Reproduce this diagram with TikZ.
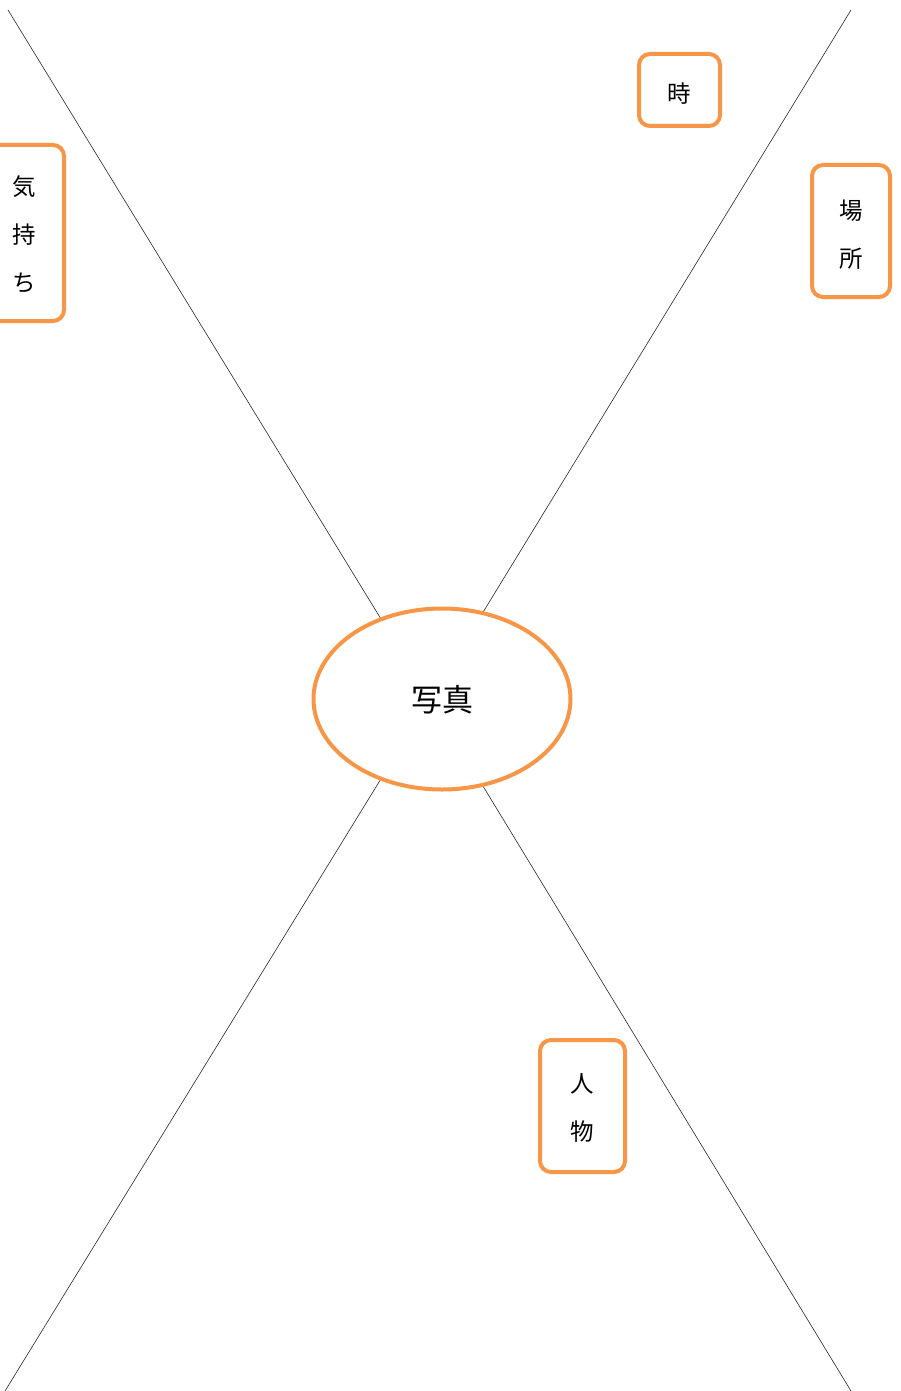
\documentclass[tikz,border=0pt]{standalone}
\usepackage{fontspec}
\setmainfont{Noto Sans CJK JP}
\usetikzlibrary{shapes.geometric}
\definecolor{orng}{HTML}{F79646}
\newcommand{\vtxt}[2]{\raisebox{#1}[\height][\depth]{\begin{tabular}{@{}c@{}}#2\end{tabular}}}
\begin{document}
\begin{tikzpicture}[x=1pt,y=-1pt,
  conn/.style={draw=black!85,line width=0.6pt},
  tbox/.style={draw=orng,line width=4pt,rounded corners=11pt,fill=white,inner sep=0pt,
     font=\fontsize{23.5}{48}\selectfont},
  hub/.style={draw=orng,line width=4pt,ellipse,fill=white,minimum width=257pt,minimum height=181pt,inner sep=0pt,
     font=\fontsize{31}{36}\selectfont}]
\useasboundingbox (0,0) rectangle (900,1391);
\coordinate (x) at (430,699);
\coordinate (tl) at (8,10);
\coordinate (tr) at (851,10);
\coordinate (bl) at (5,1391);
\coordinate (br) at (851,1391);
\draw[conn] (tl) -- (x);
\draw[conn] (tr) -- (x);
\draw[conn] (bl) -- (x);
\draw[conn] (br) -- (x);
\node[hub] (photo) at (442,699) {\vtxt{-4.5pt}{写真}};
\node[tbox,minimum width=81pt,minimum height=72pt] (toki) at (679.5,90) {\vtxt{-3pt}{時}};
\node[tbox,minimum width=78pt,minimum height=132pt] (basho) at (851,231) {\vtxt{-3pt}{場\\所}};
\node[tbox,minimum width=80pt,minimum height=176pt] (kimochi) at (24,233) {\vtxt{-1pt}{気\\持\\ち}};
\node[tbox,minimum width=85pt,minimum height=132pt] (jinbutsu) at (582.5,1106) {\vtxt{-1pt}{人\\物}};
\end{tikzpicture}
\end{document}
